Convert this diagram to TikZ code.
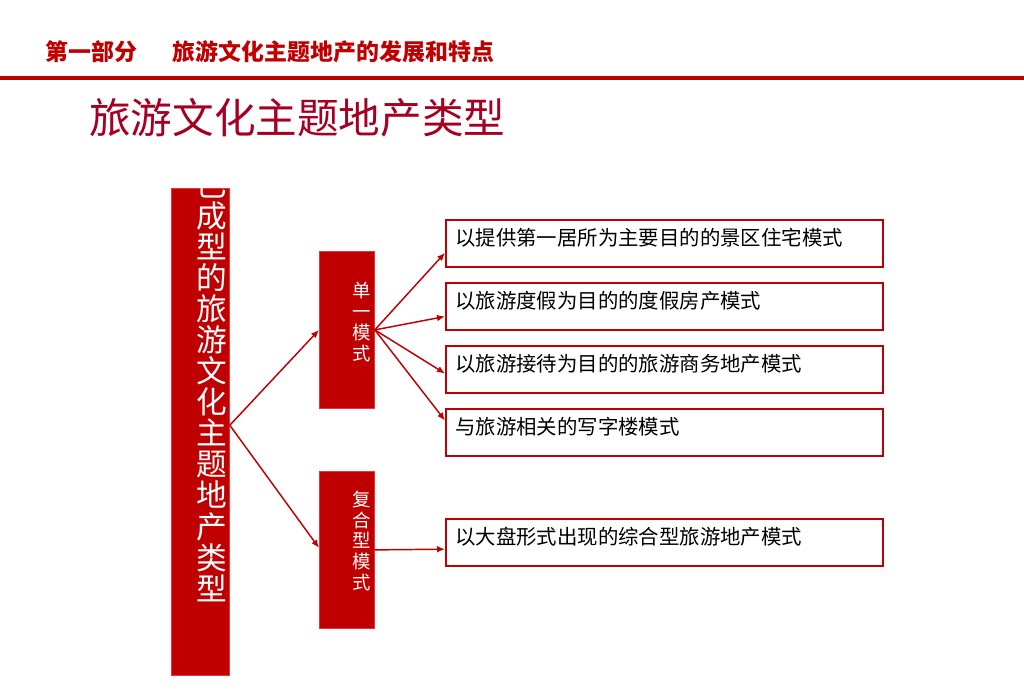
\documentclass[tikz,border=0pt]{standalone}
\usepackage{fontspec}
\setmainfont{Noto Sans CJK SC}
\usetikzlibrary{positioning,arrows.meta}
\definecolor{brickred}{HTML}{C00000}
\definecolor{winered}{HTML}{A50021}
\definecolor{edgered}{HTML}{F0303A}

\begin{document}
\begin{tikzpicture}[x=0.75pt, y=-0.75pt,
    redbar/.style={draw=edgered, line width=0.6pt, fill=brickred, inner sep=0pt, anchor=north west},
    vword/.style={text=white, align=center, inner sep=0pt},
    modebox/.style={draw=brickred, line width=1.5pt, fill=white, anchor=north west,
        minimum width=327.75pt, minimum height=35.25pt, text width=314pt, align=left,
        inner xsep=7pt, text height=11pt, text depth=8pt, font=\fontsize{15.3pt}{17pt}\selectfont},
    link/.style={brickred, line width=1.1pt, -{Latex[length=6pt, width=5pt]}}]
    \useasboundingbox (0,0) rectangle (1024,696);

    % header
    \node[anchor=west, inner sep=0pt, text=brickred, font=\fontsize{17.2pt}{19pt}\selectfont\bfseries]
        (header) at (45,52) {第一部分\hspace{27pt}旅游文化主题地产的发展和特点};
    \draw[brickred, line width=2.8pt] (0,78) -- (1024,78);
    \node[anchor=west, inner sep=0pt, text=winered, font=\fontsize{31.2pt}{34pt}\selectfont]
        (title) at (89,118) {旅游文化主题地产类型};

    % left bar
    \node[redbar, minimum width=43.5pt, minimum height=365.25pt] (bar) at (171,188) {};
    \begin{scope}
        \clip (bar.south west) rectangle (bar.north east);
        \node[vword, font=\fontsize{23pt}{23.3pt}\selectfont] (bartext) at (212,387)
            {已\\成\\型\\的\\旅\\游\\文\\化\\主\\题\\地\\产\\类\\型};
    \end{scope}

    % middle boxes
    \node[redbar, minimum width=41.25pt, minimum height=117.75pt] (single) at (319,251) {};
    \node[vword, font=\fontsize{13.8pt}{15.8pt}\selectfont] (singletext) at (362,322) {单\\一\\模\\式};
    \node[redbar, minimum width=41.25pt, minimum height=117.75pt] (mixed) at (319,471) {};
    \node[vword, font=\fontsize{13.8pt}{15.4pt}\selectfont] (mixedtext) at (362,541) {复\\合\\型\\模\\式};

    % right boxes
    \node[modebox] (home) at (445,219) {以提供第一居所为主要目的的景区住宅模式};
    \node[modebox] (resort) at (445,282) {以旅游度假为目的的度假房产模式};
    \node[modebox] (business) at (445,345) {以旅游接待为目的的旅游商务地产模式};
    \node[modebox] (office) at (445,408) {与旅游相关的写字楼模式};
    \node[modebox] (complex) at (445,518) {以大盘形式出现的综合型旅游地产模式};

    % connectors
    \draw[link] ([yshift=5pt]bar.east) -- (single.west);
    \draw[link] ([yshift=5pt]bar.east) -- ([yshift=1.5pt]mixed.west);
    \draw[link] (single.east) -- ([yshift=-7pt]home.west);
    \draw[link] (single.east) -- ([yshift=-7.5pt]resort.west);
    \draw[link] (single.east) -- ([yshift=-3pt]business.west);
    \draw[link] (single.east) -- ([yshift=9pt]office.west);
    \draw[link] (mixed.east) -- ([yshift=-5pt]complex.west);
\end{tikzpicture}
\end{document}
